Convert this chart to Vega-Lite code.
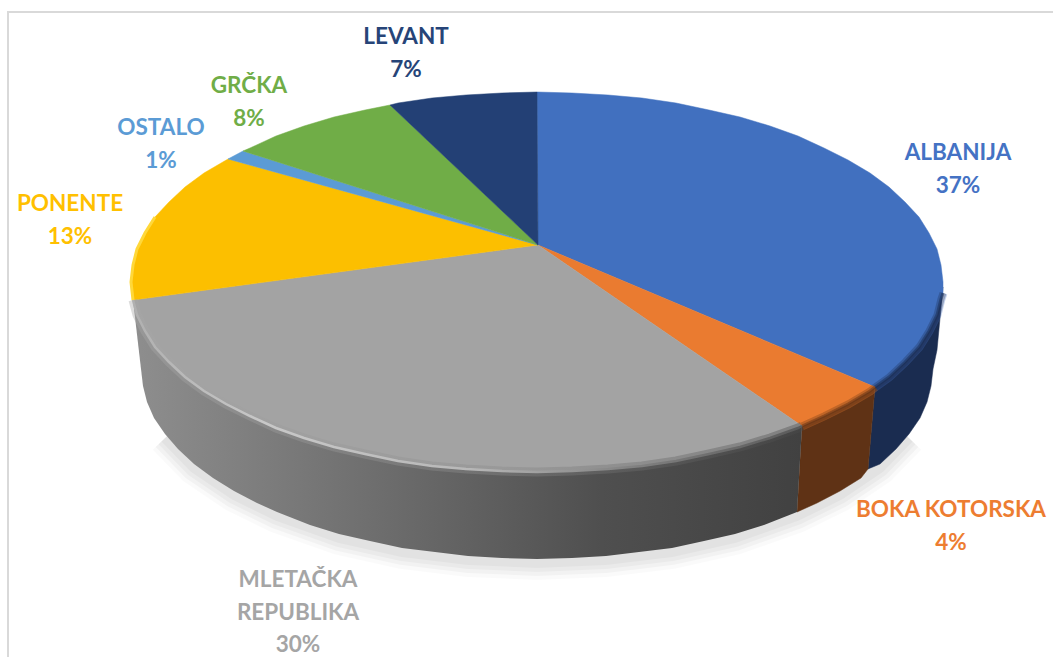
{
"$schema":"https://vega.github.io/schema/vega-lite/v6.json",
"width":1053,"height":657,"padding":0,"autosize":{"type":"none"},
"background":"white",
"view":{"stroke":null},
"projection":{"type":"identity","reflectY":true,"scale":1,"translate":[537,282]},
"resolve":{"scale":{"color":"independent","stroke":"independent"}},
"datasets":{
"frame":[{"type":"Feature","properties":{"part":"frame"},"geometry":{"type":"LineString","coordinates":[[-529,-375],[-529,270],[516,270]]}}],
"shadow":[{"type":"Feature","properties":{"part":"shadow"},"geometry":{"type":"LineString","coordinates":[[372,-156],[343,-186],[303,-213],[260,-234],[198,-256],[135,-270],[69,-278],[0,-281],[-69,-278],[-135,-270],[-198,-256],[-260,-234],[-303,-213],[-343,-186],[-372,-156]]}}],
"walls":[
{"type":"Feature","properties":{"name":"ALBANIJA"},"geometry":{"type":"Polygon","coordinates":[[[406,-5],[400,-68],[396,-87],[394,-104],[390,-120],[383,-136],[372,-152],[359,-167],[343,-182],[331,-187],[338,-105],[406,-5]]]}},
{"type":"Feature","properties":{"name":"BOKA KOTORSKA"},"geometry":{"type":"Polygon","coordinates":[[[338,-105],[331,-187],[324,-196],[303,-209],[280,-221],[260,-230],[265,-144],[338,-105]]]}}
],
"grayWall":[{"type":"Feature","properties":{"name":"MLETAČKA REPUBLIKA"},"geometry":{"type":"Polygon","coordinates":[[[265,-144],[260,-230],[227,-243],[198,-252],[167,-259],[135,-266],[102,-270],[69,-274],[35,-276],[0,-277],[-35,-276],[-69,-274],[-102,-270],[-135,-266],[-167,-259],[-198,-252],[-227,-243],[-260,-230],[-280,-221],[-303,-209],[-324,-196],[-343,-182],[-359,-167],[-372,-152],[-383,-136],[-390,-120],[-394,-104],[-396,-87],[-404,-18],[265,-144]]]}}],
"tops":[
{"type":"Feature","properties":{"name":"ALBANIJA","share":37},"geometry":{"type":"Polygon","coordinates":[[[1,37],[0,190],[35,189],[71,187],[105,184],[139,179],[172,172],[203,165],[233,156],[261,146],[287,134],[311,122],[333,109],[352,95],[368,80],[382,65],[392,49],[400,33],[404,17],[406,0],[406,-11],[404,-17],[400,-33],[392,-49],[382,-65],[368,-80],[352,-95],[338,-105],[1,37]]]}},
{"type":"Feature","properties":{"name":"BOKA KOTORSKA","share":4},"geometry":{"type":"Polygon","coordinates":[[[1,37],[338,-105],[333,-109],[311,-122],[287,-134],[265,-144],[1,37]]]}},
{"type":"Feature","properties":{"name":"MLETAČKA REPUBLIKA","share":30},"geometry":{"type":"Polygon","coordinates":[[[1,37],[265,-144],[261,-146],[233,-156],[203,-165],[172,-172],[139,-179],[105,-184],[71,-187],[35,-189],[0,-190],[-35,-189],[-71,-187],[-105,-184],[-139,-179],[-172,-172],[-203,-165],[-233,-156],[-261,-146],[-287,-134],[-311,-122],[-333,-109],[-352,-95],[-368,-80],[-382,-65],[-392,-49],[-400,-33],[-404,-18],[1,37]]]}},
{"type":"Feature","properties":{"name":"PONENTE","share":13},"geometry":{"type":"Polygon","coordinates":[[[1,37],[-404,-18],[-406,0],[-404,17],[-400,33],[-392,49],[-382,65],[-368,80],[-352,95],[-333,109],[-309,123],[1,37]]]}},
{"type":"Feature","properties":{"name":"OSTALO","share":1},"geometry":{"type":"Polygon","coordinates":[[[1,37],[-309,123],[-294,131],[1,37]]]}},
{"type":"Feature","properties":{"name":"GRČKA","share":8},"geometry":{"type":"Polygon","coordinates":[[[1,37],[-294,131],[-287,134],[-261,146],[-233,156],[-203,165],[-172,172],[-147,177],[1,37]]]}},
{"type":"Feature","properties":{"name":"LEVANT","share":7},"geometry":{"type":"Polygon","coordinates":[[[1,37],[-147,177],[-139,179],[-105,184],[-71,187],[-35,189],[0,190],[1,37]]]}}
],
"rimDark":[
{"type":"Feature","properties":{"name":"ALBANIJA"},"geometry":{"type":"LineString","coordinates":[[406,-11],[404,-17],[400,-33],[392,-49],[382,-65],[368,-80],[352,-95],[338,-105]]}},
{"type":"Feature","properties":{"name":"BOKA KOTORSKA"},"geometry":{"type":"LineString","coordinates":[[338,-105],[333,-109],[311,-122],[287,-134],[265,-144]]}}
],
"rimGray":[{"type":"Feature","properties":{"name":"MLETAČKA REPUBLIKA"},"geometry":{"type":"LineString","coordinates":[[265,-144],[261,-146],[233,-156],[203,-165],[172,-172],[139,-179],[105,-184],[71,-187],[35,-189],[0,-190],[-35,-189],[-71,-187],[-105,-184],[-139,-179],[-172,-172],[-203,-165],[-233,-156],[-261,-146],[-287,-134],[-311,-122],[-333,-109],[-352,-95],[-368,-80],[-382,-65],[-392,-49],[-400,-33],[-404,-18]]}}],
"rimYellow":[{"type":"Feature","properties":{"name":"PONENTE"},"geometry":{"type":"LineString","coordinates":[[-404,-18],[-406,0],[-404,17],[-400,33],[-392,49],[-382,65]]}}],
"labels":[
{"name":"ALBANIJA","label":"ALBANIJA\n37%","lon":421,"lat":129},
{"name":"BOKA KOTORSKA","label":"BOKA KOTORSKA\n4%","lon":414,"lat":-228},
{"name":"MLETAČKA REPUBLIKA","label":"MLETAČKA\nREPUBLIKA\n30%","lon":-239,"lat":-298},
{"name":"PONENTE","label":"PONENTE\n13%","lon":-467,"lat":78},
{"name":"OSTALO","label":"OSTALO\n1%","lon":-376,"lat":154},
{"name":"GRČKA","label":"GRČKA\n8%","lon":-288,"lat":196},
{"name":"LEVANT","label":"LEVANT\n7%","lon":-131,"lat":245}
]
},
"layer":[
{"data":{"name":"frame"},"mark":{"type":"geoshape","filled":false,"stroke":"#d9d9d9","strokeWidth":2}},
{"data":{"name":"shadow"},"mark":{"type":"geoshape","filled":false,"stroke":"#000000","strokeOpacity":0.02,"strokeWidth":34}},
{"data":{"name":"shadow"},"mark":{"type":"geoshape","filled":false,"stroke":"#000000","strokeOpacity":0.03,"strokeWidth":26}},
{"data":{"name":"shadow"},"mark":{"type":"geoshape","filled":false,"stroke":"#000000","strokeOpacity":0.03,"strokeWidth":18}},
{"data":{"name":"shadow"},"mark":{"type":"geoshape","filled":false,"stroke":"#000000","strokeOpacity":0.03,"strokeWidth":10}},
{"data":{"name":"walls"},"mark":{"type":"geoshape","strokeWidth":0.5},
 "encoding":{
  "color":{"field":"properties.name","type":"nominal","legend":null,"scale":{"domain":["ALBANIJA","BOKA KOTORSKA"],"range":["#1a2c50","#5f3215"]}},
  "stroke":{"field":"properties.name","type":"nominal","legend":null,"scale":{"domain":["ALBANIJA","BOKA KOTORSKA"],"range":["#1a2c50","#5f3215"]}}}},
{"data":{"name":"grayWall"},"mark":{"type":"geoshape","fill":{"gradient":"linear","x1":0,"y1":0,"x2":1,"y2":0,"stops":[{"offset":0,"color":"#8e8e8e"},{"offset":0.35,"color":"#6f6f6f"},{"offset":0.7,"color":"#4f4f4f"},{"offset":1,"color":"#414141"}]}}},
{"data":{"name":"rimDark"},"mark":{"type":"geoshape","filled":false,"strokeWidth":9,"strokeOpacity":0.3},
 "encoding":{"stroke":{"field":"properties.name","type":"nominal","legend":null,"scale":{"domain":["ALBANIJA","BOKA KOTORSKA"],"range":["#4472c4","#ed7d31"]}}}},
{"data":{"name":"tops"},"mark":{"type":"geoshape","strokeWidth":0.5},
 "encoding":{
  "color":{"field":"properties.name","type":"nominal","legend":null,"scale":{"domain":["ALBANIJA","BOKA KOTORSKA","MLETAČKA REPUBLIKA","PONENTE","OSTALO","GRČKA","LEVANT"],"range":["#4170bf","#ea7b30","#a3a3a3","#fcbf00","#5b9bd5","#70ad47","#234075"]}},
  "stroke":{"field":"properties.name","type":"nominal","legend":null,"scale":{"domain":["ALBANIJA","BOKA KOTORSKA","MLETAČKA REPUBLIKA","PONENTE","OSTALO","GRČKA","LEVANT"],"range":["#4170bf","#ea7b30","#a3a3a3","#fcbf00","#5b9bd5","#70ad47","#234075"]}}}},
{"data":{"name":"rimDark"},"mark":{"type":"geoshape","filled":false,"strokeWidth":7,"strokeOpacity":0.3},
 "encoding":{"stroke":{"field":"properties.name","type":"nominal","legend":null,"scale":{"domain":["ALBANIJA","BOKA KOTORSKA"],"range":["#1a2c50","#5f3215"]}}}},
{"data":{"name":"rimDark"},"mark":{"type":"geoshape","filled":false,"strokeWidth":3,"strokeOpacity":0.5},
 "encoding":{"stroke":{"field":"properties.name","type":"nominal","legend":null,"scale":{"domain":["ALBANIJA","BOKA KOTORSKA"],"range":["#1a2c50","#5f3215"]}}}},
{"data":{"name":"rimGray"},"mark":{"type":"geoshape","filled":false,"strokeWidth":9,"strokeOpacity":0.4,"stroke":{"gradient":"linear","x1":0,"y1":0,"x2":1,"y2":0,"stops":[{"offset":0,"color":"#a8a8a8"},{"offset":0.55,"color":"#8a8a8a"},{"offset":1,"color":"#4a4a4a"}]}}},
{"data":{"name":"rimGray"},"mark":{"type":"geoshape","filled":false,"strokeWidth":2.5,"stroke":{"gradient":"linear","x1":0,"y1":0,"x2":1,"y2":0,"stops":[{"offset":0,"color":"#b0b0b0"},{"offset":0.2,"color":"#c8c8c8"},{"offset":0.5,"color":"#b8b8b8"},{"offset":0.75,"color":"#808080"},{"offset":1,"color":"#5a5a5a"}]}}},
{"data":{"name":"rimYellow"},"mark":{"type":"geoshape","filled":false,"strokeWidth":3,"stroke":"#ffd83a"}},
{"data":{"name":"labels"},"mark":{"type":"text","font":"Lato","fontWeight":"bold","fontSize":22.5,"align":"center","baseline":"middle","lineBreak":"\n","lineHeight":32.5},
 "encoding":{
  "longitude":{"field":"lon","type":"quantitative"},
  "latitude":{"field":"lat","type":"quantitative"},
  "text":{"field":"label"},
  "color":{"field":"name","type":"nominal","legend":null,"scale":{"domain":["ALBANIJA","BOKA KOTORSKA","MLETAČKA REPUBLIKA","PONENTE","OSTALO","GRČKA","LEVANT"],"range":["#4472c4","#ed7d31","#a5a5a5","#ffc000","#5b9bd5","#70ad47","#264478"]}}}}
]
}
